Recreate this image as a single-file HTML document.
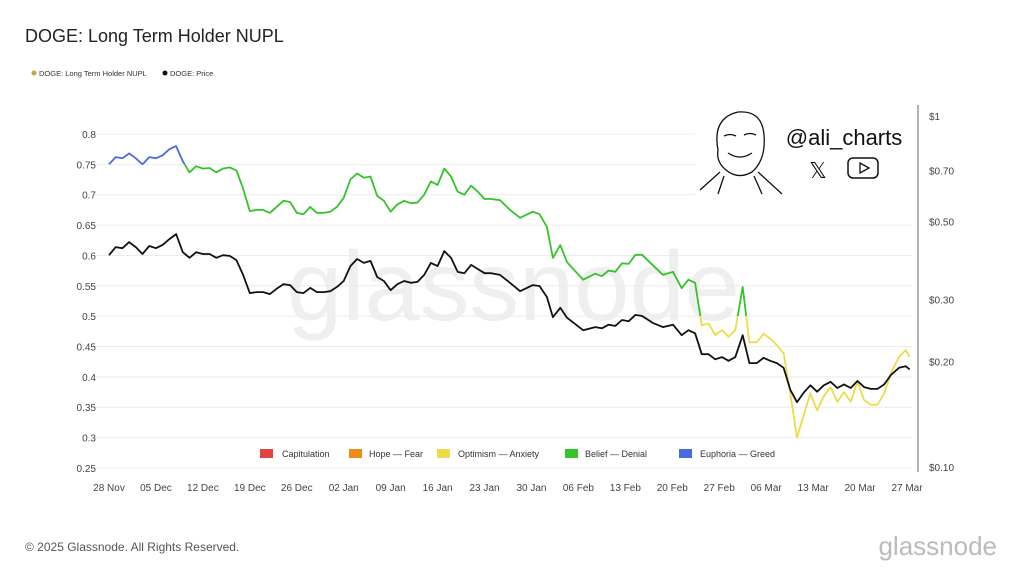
<!DOCTYPE html>
<html><head><meta charset="utf-8"><style>
body{margin:0;background:#fff;width:1024px;height:576px;overflow:hidden;font-family:"Liberation Sans",sans-serif}
</style></head><body>
<svg width="1024" height="576" viewBox="0 0 1024 576" xmlns="http://www.w3.org/2000/svg" font-family="Liberation Sans, sans-serif">
<rect width="1024" height="576" fill="#fff"/>
<text x="25" y="42" font-size="18" fill="#222">DOGE: Long Term Holder NUPL</text>
<g font-size="7.5" fill="#333">
<circle cx="34" cy="73" r="2.5" fill="#c8a53a"/><text x="39" y="76">DOGE: Long Term Holder NUPL</text>
<circle cx="165" cy="73" r="2.5" fill="#111"/><text x="170" y="76">DOGE: Price</text>
</g>
<text x="287" y="320" font-size="98" fill="#efefef" textLength="453" lengthAdjust="spacingAndGlyphs">glassnode</text>
<g id="grid"></g>
<g id="yticks" font-size="10" fill="#444" text-anchor="end"></g>
<g id="rticks" font-size="10" fill="#444"></g>
<g id="xticks" font-size="10" fill="#444" text-anchor="middle"></g>
<line x1="918" y1="105" x2="918" y2="472" stroke="#666" stroke-width="1"/>
<defs>
<clipPath id="cBlue"><rect id="rBlue" x="0" width="1024"/></clipPath>
<clipPath id="cGreen"><rect id="rGreen" x="0" width="1024"/></clipPath>
<clipPath id="cYellow"><rect id="rYellow" x="0" width="1024"/></clipPath>
</defs>
<g id="series"></g>
<g>
<rect x="695" y="104" width="218" height="92" fill="#fff"/>
<g fill="none" stroke="#111" stroke-width="1.3">
<path d="M718 150 Q712 118 738 112 Q762 110 764 135 Q766 160 752 172 Q738 180 726 170 Q716 162 718 150Z"/>
<path d="M724 136 q6 -3 12 0 M744 135 q6 -3 12 0 M728 153 q12 8 24 0 M720 172 L700 190 M758 172 L782 194 M724 176 l-6 18 M754 176 l8 18"/>
</g>
<text x="844" y="145" font-size="22" fill="#111" text-anchor="middle">@ali_charts</text>
<text x="818" y="178" font-size="22" fill="#111" text-anchor="middle">𝕏</text>
<rect x="848" y="158" width="30" height="20" rx="5" fill="none" stroke="#111" stroke-width="1.5"/>
<path d="M860 163 L869 168 L860 173Z" fill="none" stroke="#111" stroke-width="1.3"/>
</g>
<g font-size="9" fill="#333">
<rect x="260" y="449" width="13" height="9" fill="#e04444"/><text x="282" y="457">Capitulation</text>
<rect x="349" y="449" width="13" height="9" fill="#f08a1a"/><text x="369" y="457">Hope — Fear</text>
<rect x="437" y="449" width="13" height="9" fill="#eedb4a"/><text x="458" y="457">Optimism — Anxiety</text>
<rect x="565" y="449" width="13" height="9" fill="#33c42a"/><text x="585" y="457">Belief — Denial</text>
<rect x="679" y="449" width="13" height="9" fill="#4a6ae0"/><text x="700" y="457">Euphoria — Greed</text>
</g>
<text x="25" y="551" font-size="12" fill="#555">© 2025 Glassnode. All Rights Reserved.</text>
<text x="997" y="555" font-size="26" fill="#bbb" text-anchor="end">glassnode</text>
</svg>
<script>
const days = [0,1,2,3,4,5,6,7,8,9,10,11,12,13,14,15,16,17,18,19,20,21,22,23,24,25,26,27,28,29,30,31,32,33,34,35,36,37,38,39,40,41,42,43,44,45,46,47,48,49,50,51,52,53,54,55,56,57,
58.3,59.8,61.3,63.2,64.2,65.3,66.2,67.3,68.3,70.7,72.5,73.5,74.5,75.5,76.5,77.5,78.5,79.5,81.1,82.6,84.1,85.4,86.4,87.4,88.4,89.4,90.4,91.4,92.4,93.4,94.5,95.5,96.6,97.6,98.6,99.6,100.6,101.6,102.6,103.6,104.6,105.6,106.6,107.6,108.6,109.6,110.6,111.6,112.6,113.6,114.6,115.6,116.6,117.8,118.8,119.4];
const nupl = [0.75,0.762,0.76,0.768,0.76,0.75,0.762,0.76,0.765,0.775,0.78,0.755,0.737,0.747,0.743,0.744,0.737,0.743,0.745,0.74,0.71,0.673,0.675,0.675,0.67,0.68,0.69,0.688,0.67,0.668,0.68,0.67,0.67,0.672,0.68,0.695,0.725,0.735,0.728,0.73,0.698,0.69,0.672,0.684,0.69,0.686,0.687,0.7,0.722,0.716,0.743,0.73,0.705,0.7,0.715,0.705,0.693,0.693,
0.691,0.675,0.662,0.672,0.668,0.647,0.596,0.617,0.589,0.56,0.57,0.566,0.575,0.573,0.587,0.586,0.601,0.601,0.584,0.568,0.573,0.546,0.56,0.555,0.485,0.488,0.469,0.477,0.466,0.477,0.548,0.457,0.457,0.471,0.463,0.452,0.439,0.373,0.3,0.337,0.373,0.345,0.368,0.383,0.359,0.375,0.359,0.392,0.362,0.354,0.354,0.373,0.406,0.433,0.444,0.433];
const price = [0.404,0.426,0.423,0.440,0.426,0.407,0.429,0.423,0.432,0.449,0.464,0.412,0.397,0.412,0.407,0.407,0.397,0.404,0.402,0.391,0.355,0.315,0.317,0.317,0.313,0.324,0.334,0.332,0.317,0.315,0.326,0.317,0.317,0.319,0.328,0.341,0.376,0.394,0.384,0.389,0.350,0.341,0.321,0.334,0.341,0.337,0.339,0.355,0.384,0.376,0.415,0.397,0.362,0.359,0.379,0.369,0.359,0.359,
0.355,0.337,0.319,0.332,0.330,0.307,0.269,0.286,0.268,0.247,0.252,0.250,0.256,0.254,0.264,0.262,0.273,0.271,0.259,0.252,0.256,0.239,0.247,0.242,0.211,0.211,0.204,0.207,0.202,0.207,0.239,0.199,0.199,0.206,0.202,0.199,0.193,0.167,0.154,0.164,0.172,0.165,0.172,0.176,0.169,0.173,0.169,0.177,0.170,0.168,0.168,0.173,0.184,0.193,0.195,0.191];
const leftTicks = [0.25,0.3,0.35,0.4,0.45,0.5,0.55,0.6,0.65,0.7,0.75,0.8];
const rightTicks = [1,0.7,0.5,0.3,0.2,0.1];
const rightLabels = ["$1","$0.70","$0.50","$0.30","$0.20","$0.10"];
const xLabels = ["28 Nov","05 Dec","12 Dec","19 Dec","26 Dec","02 Jan","09 Jan","16 Jan","23 Jan","30 Jan","06 Feb","13 Feb","20 Feb","27 Feb","06 Mar","13 Mar","20 Mar","27 Mar"];
const xDays = [0,7,14,21,28,35,42,49,56,63,70,77,84,91,98,105,112,119];

const NS="http://www.w3.org/2000/svg";
const x = d => 109 + d*(798/119);
const yL = v => 134 + (0.8-v)/0.05*30.36;
const yR = p => 117 - Math.log10(p)*351;
function mk(tag, attrs, parent){const e=document.createElementNS(NS,tag);for(const k in attrs)e.setAttribute(k,attrs[k]);parent.appendChild(e);return e;}

const grid=document.getElementById('grid'), yt=document.getElementById('yticks');
leftTicks.forEach(v=>{
  const l=mk('line',{x1:93,x2:912,y1:yL(v),y2:yL(v),stroke:'#ececec','stroke-width':1},grid);
  
  
  const t=mk('text',{x:96,y:yL(v)+4},yt);
  t.textContent=String(v);
  
  
});
const rt=document.getElementById('rticks');
rightTicks.forEach((p,i)=>{
  const t=mk('text',{x:929,y:yR(p)+3},rt);
  t.textContent=rightLabels[i];
  
  
});
const xt=document.getElementById('xticks');
xDays.forEach((d,i)=>{
  const t=mk('text',{x:x(d),y:491},xt);
  t.textContent=xLabels[i];
  
  
});

function setRect(id,top,bot){const r=document.getElementById(id);r.setAttribute('y',top);r.setAttribute('height',bot-top);}
setRect('rBlue',0,yL(0.75));
setRect('rGreen',yL(0.75),yL(0.5));
setRect('rYellow',yL(0.5),576);

const series=document.getElementById('series');
const nd=days.map((d,i)=>(i?'L':'M')+x(d).toFixed(1)+' '+yL(nupl[i]).toFixed(1)).join(' ');
[['cBlue','#4a6ae0','nupl-euphoria-segment'],['cGreen','#33c42a','nupl-belief-segment'],['cYellow','#eedb4a','nupl-optimism-segment']].forEach(([c,col,name])=>{
  const p=mk('path',{d:nd,fill:'none',stroke:col,'stroke-width':1.8,'clip-path':'url(#'+c+')','stroke-linejoin':'round'},series);
  
  
});
const pd=days.map((d,i)=>(i?'L':'M')+x(d).toFixed(1)+' '+yR(price[i]).toFixed(1)).join(' ');
const pl=mk('path',{d:pd,fill:'none',stroke:'#111','stroke-width':1.8,'stroke-linejoin':'round'},series);


</script>
</body></html>
